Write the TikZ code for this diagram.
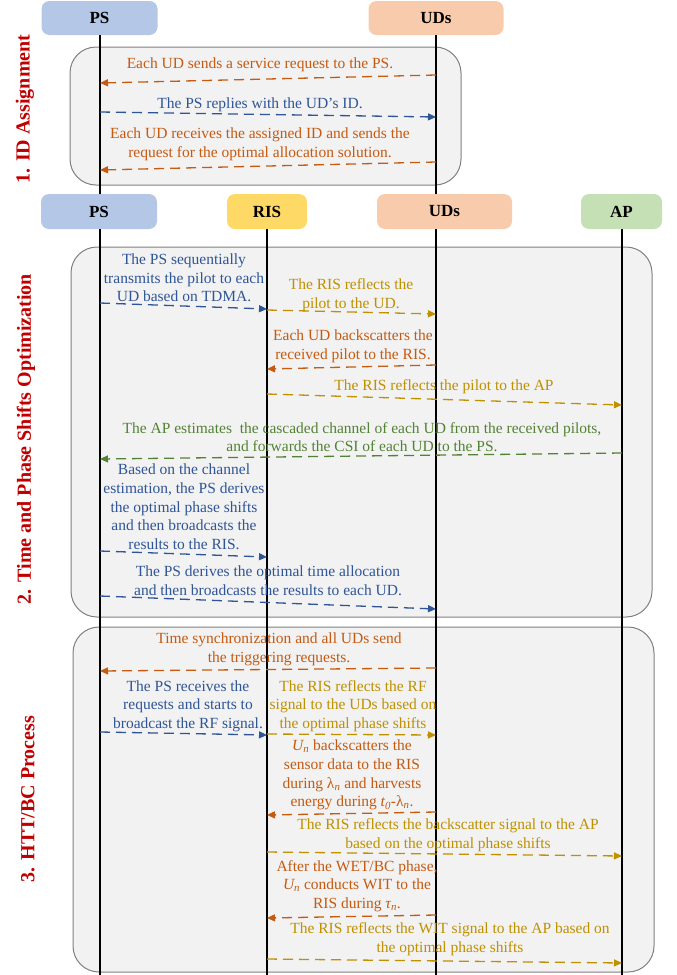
\documentclass[tikz,border=0pt]{standalone}
\usepackage{fontspec}
\setmainfont{Liberation Serif}
\usetikzlibrary{arrows.meta}
\definecolor{psblue}{HTML}{B4C7E7}
\definecolor{risyel}{HTML}{FFD966}
\definecolor{udorg}{HTML}{F8CBAD}
\definecolor{apgrn}{HTML}{C5E0B4}
\definecolor{cOr}{HTML}{C55A11}
\definecolor{cBl}{HTML}{2F5597}
\definecolor{cGd}{HTML}{BF9000}
\definecolor{cGn}{HTML}{548235}
\definecolor{cRd}{HTML}{C00000}
\definecolor{secfill}{HTML}{F2F2F2}
\definecolor{secdraw}{HTML}{808080}
\begin{document}
\begin{tikzpicture}[x=1pt,y=-1pt,
  hdr/.style={rounded corners=8pt, minimum height=34pt, inner sep=0pt, font=\fontsize{17}{19}\selectfont\bfseries},
  secbox/.style={draw=secdraw, fill=secfill, line width=1pt, rounded corners=26pt},
  life/.style={line width=2.4pt, black},
  msg/.style={dash pattern=on 10pt off 6pt, line width=1.3pt, -{Triangle[length=8pt,width=7pt]}},
  txt/.style={align=center, inner sep=0pt, font=\fontsize{15.5}{18.7}\selectfont},
  phase/.style={rotate=90, text=cRd, font=\fontsize{20}{24}\selectfont\bfseries, inner sep=0pt}
]
\useasboundingbox (0,0) rectangle (677,975);

% section boxes
\draw[secbox] (70,47) rectangle (461,185);
\draw[secbox] (71,247) rectangle (652,617);
\draw[secbox] (73,627) rectangle (654,972);

% headers
\node[hdr, fill=psblue, minimum width=116pt] (ps1) at (99.5,18) {PS};
\node[hdr, fill=udorg, minimum width=135pt] (ud1) at (436,18) {UDs};
\node[hdr, fill=psblue, minimum width=116pt, minimum height=35pt] (ps2) at (99,211.5) {PS};
\node[hdr, fill=risyel, minimum width=80pt, minimum height=35pt] (ris2) at (267,211.5) {RIS};
\node[hdr, fill=udorg, minimum width=135pt, minimum height=35pt] (ud2) at (444.5,211.5) {UDs};
\node[hdr, fill=apgrn, minimum width=81pt, minimum height=35pt] (ap2) at (621.5,211.5) {AP};

% lifelines
\coordinate (psL) at (100,0);
\coordinate (risL) at (267,0);
\coordinate (udL) at (436,0);
\coordinate (apL) at (622,0);
\coordinate (bot) at (0,975);
\draw[life] (psL |- ps1.south) -- (psL |- ps2.north);
\draw[life] (udL |- ud1.south) -- (udL |- ud2.north);
\draw[life] (psL |- ps2.south) -- (psL |- bot);
\draw[life] (risL |- ris2.south) -- (risL |- bot);
\draw[life] (udL |- ud2.south) -- (udL |- bot);
\draw[life] (apL |- ap2.south) -- (apL |- bot);

% phase labels
\node[phase] (ph1) at (25,109) {1. ID Assignment};
\node[phase] (ph2) at (26,439) {2. Time and Phase Shifts Optimization};
\node[phase] (ph3) at (28,799) {3. HTT/BC Process};

% message end points
\coordinate (a1s) at (436,75);  \coordinate (a1e) at (100,83);
\coordinate (a2s) at (100,112); \coordinate (a2e) at (436,117);
\coordinate (a3s) at (436,162); \coordinate (a3e) at (100,170);
\coordinate (a4s) at (100,303); \coordinate (a4e) at (267,309);
\coordinate (a5s) at (267,310); \coordinate (a5e) at (436,314);
\coordinate (a6s) at (436,365); \coordinate (a6e) at (267,369);
\coordinate (a7s) at (267,394); \coordinate (a7e) at (622,405);
\coordinate (a8s) at (622,453); \coordinate (a8e) at (100,459);
\coordinate (a9s) at (100,551); \coordinate (a9e) at (267,557);
\coordinate (a10s) at (100,596); \coordinate (a10e) at (436,609);
\coordinate (a11s) at (436,668); \coordinate (a11e) at (100,671);
\coordinate (a12s) at (100,732); \coordinate (a12e) at (267,735);
\coordinate (a13s) at (267,734); \coordinate (a13e) at (436,735);
\coordinate (a14s) at (436,812); \coordinate (a14e) at (267,815);
\coordinate (a15s) at (267,852); \coordinate (a15e) at (622,856);
\coordinate (a16s) at (436,915); \coordinate (a16e) at (267,918);
\coordinate (a17s) at (267,959); \coordinate (a17e) at (622,963);

% messages
\draw[msg, cOr] (a1s) -- (a1e);
\draw[msg, cBl] (a2s) -- (a2e);
\draw[msg, cOr] (a3s) -- (a3e);
\draw[msg, cBl] (a4s) -- (a4e);
\draw[msg, cGd] (a5s) -- (a5e);
\draw[msg, cOr] (a6s) -- (a6e);
\draw[msg, cGd] (a7s) -- (a7e);
\draw[msg, cGn] (a8s) -- (a8e);
\draw[msg, cBl] (a9s) -- (a9e);
\draw[msg, cBl] (a10s) -- (a10e);
\draw[msg, cOr] (a11s) -- (a11e);
\draw[msg, cBl] (a12s) -- (a12e);
\draw[msg, cGd] (a13s) -- (a13e);
\draw[msg, cOr] (a14s) -- (a14e);
\draw[msg, cGd] (a15s) -- (a15e);
\draw[msg, cOr] (a16s) -- (a16e);
\draw[msg, cGd] (a17s) -- (a17e);

% texts
\node[txt, text=cOr] (t1) at (260,65) {Each UD sends a service request to the PS.};
\node[txt, text=cBl] (t2) at (260,105) {The PS replies with the UD’s ID.};
\node[txt, text=cOr] (t3) at (260,144) {Each UD receives the assigned ID and sends the\\request for the optimal allocation solution.};
\node[txt, text=cBl] (t4) at (184,278) {The PS sequentially\\transmits the pilot to each\\UD based on TDMA.};
\node[txt, text=cGd] (t5) at (351,295) {The RIS reflects the\\pilot to the UD.};
\node[txt, text=cOr] (t6) at (353,346) {Each UD backscatters the\\received pilot to the RIS.};
\node[txt, text=cGd] (t7) at (444,387) {The RIS reflects the pilot to the AP};
\node[txt, text=cGn] (t8) at (362,437) {The AP estimates \ the cascaded channel of each UD from the received pilots,\\and forwards the CSI of each UD to the PS.};
\node[txt, text=cBl] (t9) at (184,507) {Based on the channel\\estimation, the PS derives\\the optimal phase shifts\\and then broadcasts the\\results to the RIS.};
\node[txt, text=cBl] (t10) at (268,581) {The PS derives the optimal time allocation\\and then broadcasts the results to each UD.};
\node[txt, text=cOr] (t11) at (279,649) {Time synchronization and all UDs send\\the triggering requests.};
\node[txt, text=cBl] (t12) at (188,706) {The PS receives the\\requests and starts to\\broadcast the RF signal.};
\node[txt, text=cGd] (t13) at (353,706) {The RIS reflects the RF\\signal to the UDs based on\\the optimal phase shifts};
\node[txt, text=cOr] (t14) at (352,775) {{\itshape U}\textsubscript{\itshape n} backscatters the\\sensor data to the RIS\\during λ\textsubscript{\itshape n} and harvests\\energy during {\itshape t}\textsubscript{\itshape 0}-λ\textsubscript{\itshape n}.};
\node[txt, text=cGd] (t15) at (448,835) {The RIS reflects the backscatter signal to the AP\\based on the optimal phase shifts};
\node[txt, text=cOr] (t16) at (357,886) {After the WET/BC phase,\\{\itshape U}\textsubscript{\itshape n} conducts WIT to the\\RIS during {\itshape τ}\textsubscript{\itshape n}.};
\node[txt, text=cGd] (t17) at (450,939) {The RIS reflects the WIT signal to the AP based on\\the optimal phase shifts};
\end{tikzpicture}
\end{document}
